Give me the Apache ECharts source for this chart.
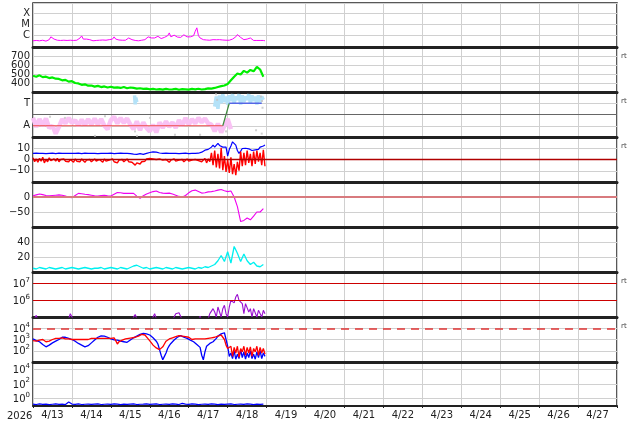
<!DOCTYPE html>
<html><head><meta charset="utf-8">
<script src="https://cdn.jsdelivr.net/npm/echarts@6/dist/echarts.min.js"></script>
<style>html,body{margin:0;padding:0;background:#fff}#c{width:634px;height:424px}</style>
</head><body><div id="c"></div>
<script>
// ---------- DATA (hours since 2026-04-13 00:00) ----------
const dayLabels = ['4/13','4/14','4/15','4/16','4/17','4/18','4/19','4/20','4/21','4/22','4/23','4/24','4/25','4/26','4/27'];
const yearLabel = '2026';
const rtLabelPanels = [1, 2, 3, 6, 7];

// X-ray flux, log10(W/m2), hourly
const xrayLog = [
-6.45,-6.5,-6.42,-6.48,-6.45,-6.5,-6.4,-6.45,-6.48,-6.42,
-6.35,-6.1,-6.0,-6.3,-6.45,-6.4,-6.48,-6.42,-6.45,-6.4,
-6.45,-6.42,-6.48,-6.4,-6.45,-6.42,-6.38,-6.4,-6.3,-6.2,
-6.02,-6.3,-6.35,-6.3,-6.15,-6.35,-6.42,-6.45,-6.4,-6.42,
-6.45,-6.4,-6.42,-6.38,-6.45,-6.4,-6.42,-6.35,-6.4,-6.3,
-6.1,-6.3,-6.4,-6.38,-6.42,-6.4,-6.35,-6.4,-6.3,-6.2,
-6.15,-6.35,-6.4,-6.42,-6.4,-6.45,-6.42,-6.4,-6.38,-6.35,
-6.3,-6.1,-5.95,-6.2,-6.25,-6.2,-6.1,-6.05,-6.2,-6.25,
-6.2,-6.15,-6.2,-6.0,-5.75,-6.1,-6.15,-5.95,-6.1,-6.12,
-6.1,-6.15,-6.0,-5.92,-6.05,-6.1,-6.05,-6.1,-6.08,-6.0,
-5.6,-5.3,-6.0,-6.2,-6.3,-6.35,-6.32,-6.38,-6.35,-6.4,
-6.38,-6.35,-6.4,-6.36,-6.3,-6.35,-6.4,-6.38,-6.42,-6.4,
-6.38,-6.4,-6.35,-6.3,-6.2,-6.1,-5.9,-5.75,-6.15,-6.3,
-6.35,-6.38,-6.3,-6.15,-6.2,-6.35,-6.42,-6.45,-6.42,-6.45,
-6.42,-6.45,-6.42,-6.45];

// Solar wind speed km/s, every 2 h
const windSpeed = [
480,470,485,465,470,455,462,448,445,430,
435,415,420,400,395,380,385,370,372,360,
368,355,362,350,358,348,352,345,355,342,
350,345,338,342,335,338,330,335,328,332,
326,335,328,330,335,325,332,330,326,334,
330,336,328,332,340,338,345,355,365,372,
390,430,470,505,495,535,515,545,530,580,
550,470];

// IMF angle scatter (pink, away sector), every 2 h
const imfAway = [
-0.3,-1.1,-0.4,-1.0,-0.35,-1.2,-1.0,-1.7,-1.1,-0.4,
-0.8,-0.3,-0.75,-0.5,-1.0,-0.45,-0.95,-0.4,-0.9,-0.35,
-0.9,-0.4,-1.0,-1.3,-0.5,-0.2,-0.8,-0.3,-0.75,-0.35,
-0.9,-1.3,-0.6,-1.4,-0.7,-1.2,-1.5,-0.9,-1.6,-0.7,
-1.2,-0.6,-1.1,-0.7,-1.2,-0.5,-1.0,-0.3,-0.9,-0.4,
-0.8,-0.3,-0.7,-0.35,-0.8,-0.9,-1.5,-0.8,-1.6,-1.0,
-0.4,-1.3];
// IMF angle (light blue, toward sector)
const imfTowardTimes = [62.6,63.0,63.4,64.0,64.1,
112,113,114,115,116,117,118,119,120,121,122,123,124,125,126,127,128,129,130,131,132,133,134,135,136,137,138,139,140,141,142];
const imfTowardVals = [1.7,0.9,1.5,1.1,null,
0.7,1.6,0.5,1.7,1.0,1.8,1.1,1.6,0.9,1.7,1.2,1.8,1.0,1.6,1.3,1.8,0.9,1.7,1.1,1.6,1.3,1.8,1.0,1.7,1.2,1.6,0.9,1.7,1.1,1.6,1.3];
// gray scatter points
const imfGrayTimes = [10.5,19.7,38.2,44.4,62.9,64.1,72.1,87.5,103,112.8,113.5,119,137.5,141.2,141.5,141,140.5];
const imfGrayVals  = [-0.2,-0.3,-1.9,-0.15,-1.5,-1.9,-0.3,-1.8,-1.8,1.8,1.3,-1.5,-1.4,1.2,0.6,-1.7,1.6];
// sector assignment step line
const sectorTimes = [0,117,121,141];
const sectorVals  = [-1,-1,1,1];

// Bt (blue) and Bz (red), nT, hourly
const bt = [
5.5,5.3,5.6,5.4,5.5,5.8,5.4,5.5,5.2,5.6,5.5,5.4,5.7,5.5,5.3,5.5,5.6,5.4,5.5,5.3,
5.4,5.6,5.5,5.3,5.5,5.6,5.4,5.5,5.7,5.5,5.3,5.4,5.6,5.5,5.4,5.2,5.5,5.6,5.4,5.5,
5.3,5.5,5.4,5.6,5.5,5.3,5.5,5.4,5.6,5.5,5.2,5.4,5.5,5.3,5.6,5.4,5.5,5.3,5.4,5.5,
5.3,5.2,4.8,5.0,4.5,4.8,5.2,5.0,4.6,5.0,5.5,5.8,6.2,6.5,6.8,7.0,6.5,6.0,5.8,5.5,
5.4,5.5,5.6,5.4,5.5,5.3,5.5,5.6,5.4,5.5,5.3,5.6,5.5,5.4,5.6,5.5,5.3,5.5,5.4,5.6,
5.5,5.4,5.6,5.8,6.5,7.5,8.3,8.0,9.0,10.0,
11.0,12.8,11.0,12.0,14.3,12.5,13.0,11.0,12.0,11.0,
3.0,9.0,12.0,15.7,17.2,12.8,8.0,5.4,7.5,9.8,
11.0,10.0,8.3,9.5,11.0,8.0,6.8,8.5,10.0,9.0,11.0,10.0,12.0,12.8];
const bz = [
1.5,-2.0,0.5,-2.5,1.0,-1.5,2.0,-3.0,0.0,-2.0,1.5,-1.0,-2.5,0.5,-1.5,1.0,-2.0,0.0,-1.0,0.5,
-1.5,-0.5,-2.0,0.0,-1.0,-2.5,0.5,-1.5,-0.5,-2.0,0.5,-1.0,-2.5,-0.5,-1.5,0.0,-2.0,-1.0,0.5,-1.5,
-2.0,0.0,-1.0,-2.5,0.5,-1.5,-3.0,-0.5,-1.5,0.5,-2.0,-1.0,-3.0,-0.5,-1.5,0.0,-2.0,-1.0,0.5,-2.0,
-1.0,-2.5,-4.0,-5.0,-3.0,-1.5,-4.0,-2.0,-0.5,-1.5,0.5,-1.0,1.0,-0.5,0.5,-1.0,0.0,-1.5,0.5,-1.0,
-0.5,-2.0,0.0,-1.5,-2.5,-0.5,-1.0,0.5,-1.5,-2.0,-0.5,-1.0,0.0,-2.0,-1.0,0.5,-1.5,-2.5,-0.5,-1.0,
0.0,-1.5,-1.0,0.5,-2.0,-1.0,1.0,-3.0,0.5,-2.0,
6.0,-5.0,8.0,-7.0,5.0,-8.0,10.5,-9.5,3.0,-11.0,
0.0,-12.0,2.0,-13.0,-4.0,-14.0,-2.0,-10.0,7.0,-6.0,
6.0,-5.0,8.0,-3.0,5.0,-6.0,7.0,-4.0,8.0,-2.0,6.0,-5.0,8.5,-6.0];

// Dst-like index, nT, every 2 h
const dstIndex = [
4,7,10,8,5,4,5,6,7,6,
3,-1,-2,5,12,11,9,8,6,4,
3,5,6,4,3,9,15,14,12,12,
12,12,3,-4,4,10,14,18,20,15,
13,12,13,10,6,2,0,5,14,21,
23,18,13,14,17,18,20,23,25,21,
18,20,0,-32,-82,-78,-70,-76,-64,-50,
-50,-39];

// density, every 2 h
const density = [
5,4,6,5,4,6,5,4,5,6,
4,5,6,5,4,5,6,5,4,5,
5,6,4,5,6,5,4,6,5,4,
6,8,9,7,5,6,4,5,6,5,
4,6,5,4,6,5,4,5,6,5,
4,6,5,7,6,8,10,15,22,14,
27,12,34,25,14,24,15,10,13,8,
7,10];

// panel 7 log10 values, hourly
const purpleLog = [
4.7,4.9,5.1,4.8,4.7,4.7,4.7,4.7,4.7,4.7,
4.7,4.7,4.7,4.7,4.7,4.7,4.7,4.7,4.7,4.7,
4.7,4.7,4.9,5.2,5.1,4.8,4.7,4.7,4.7,4.7,
4.7,4.7,4.7,4.7,4.7,4.7,4.7,4.7,4.7,4.7,
4.7,4.7,4.7,4.7,4.7,4.7,4.7,4.7,4.7,4.7,
4.7,4.7,4.7,4.7,4.7,4.7,4.7,4.7,4.7,4.7,
4.7,4.7,5.0,5.15,4.9,4.7,4.7,4.7,4.7,4.7,
4.7,4.7,4.7,4.7,5.0,5.2,4.9,4.7,4.7,4.7,
4.7,4.7,4.7,4.7,4.7,4.7,4.7,5.0,5.2,5.3,
5.25,5.05,4.8,4.7,4.7,4.7,4.7,4.7,4.7,4.7,
4.7,4.7,4.7,5.05,4.8,4.7,4.7,4.7,4.9,5.2,
5.35,5.5,5.3,5.0,5.6,5.5,5.0,5.5,5.7,5.2,
5.0,5.6,6.0,5.9,5.85,6.2,6.36,6.0,6.1,5.8,
5.2,5.8,5.9,5.3,5.5,5.0,5.5,5.45,5.0,5.4,
5.3,5.0,5.4,5.2];

// panel 8 log10 values, hourly
const fluxBlueLog = [
3.05,3.0,2.9,2.85,2.8,2.7,2.55,2.45,2.35,2.4,
2.5,2.6,2.7,2.8,2.85,2.95,3.0,3.1,3.2,3.25,
3.2,3.15,3.1,3.05,3.0,2.95,2.85,2.75,2.65,2.6,
2.5,2.4,2.35,2.35,2.45,2.6,2.7,2.8,2.95,3.1,
3.2,3.28,3.32,3.34,3.3,3.25,3.2,3.12,3.05,3.0,
2.97,2.95,2.95,2.9,2.85,2.82,2.8,2.78,2.75,2.85,
2.95,3.05,3.15,3.2,3.3,3.4,3.45,3.5,3.55,3.55,
3.5,3.45,3.4,3.3,3.15,3.05,2.85,2.6,2.1,1.6,
1.2,1.5,1.8,2.2,2.45,2.65,2.8,2.95,3.1,3.2,
3.3,3.35,3.3,3.2,3.15,3.1,3.0,2.95,2.9,2.8,
2.65,2.55,2.45,2.3,1.6,1.2,1.9,2.4,2.55,2.65,
2.75,2.8,2.95,3.1,3.3,3.45,3.5,3.55,3.6,3.6,
2.4,1.5,1.8,1.3,2.0,1.25,1.7,1.3,2.1,1.4,
1.9,1.25,1.8,1.4,2.0,1.3,1.7,1.25,1.9,1.4,
2.0,1.3,1.8,1.5];
const fluxRedLog = [
2.9,2.95,2.85,3.0,2.95,2.9,3.0,2.85,2.8,2.9,
2.85,2.95,3.0,3.05,3.1,3.05,3.1,3.15,3.15,3.1,
3.05,3.0,3.05,2.95,3.0,2.95,3.0,2.95,3.0,3.05,
3.0,2.95,3.0,3.05,3.0,3.05,3.1,3.05,3.1,3.05,
3.1,3.05,3.1,3.15,3.1,3.15,3.1,3.15,3.1,3.15,
3.15,2.9,2.6,2.8,2.9,2.95,3.0,3.05,3.05,3.1,
3.1,3.15,3.2,3.2,3.25,3.3,3.35,3.45,3.55,3.4,
3.25,3.05,2.9,2.7,2.5,2.35,2.25,2.15,2.1,2.2,
2.35,2.6,2.85,3.0,3.05,3.1,3.15,3.2,3.25,3.3,
3.35,3.35,3.3,3.3,3.25,3.25,3.2,3.1,3.0,3.0,
3.05,3.0,3.05,3.0,3.05,3.0,3.05,3.0,3.1,3.1,
3.15,3.2,3.2,3.25,3.3,3.35,3.4,3.3,3.0,2.5,
2.2,2.05,2.4,1.5,2.3,1.8,2.4,1.4,2.2,1.9,
2.4,1.6,2.3,1.8,2.35,1.5,2.2,1.9,2.4,1.6,
2.3,1.8,2.2,1.7];

// panel 9 log10 values, every 2 h
const lowFluxLog = [
-0.75,-0.8,-0.72,-0.78,-0.75,-0.8,-0.76,-0.72,-0.78,-0.75,
-0.8,-0.45,-0.74,-0.78,-0.72,-0.8,-0.76,-0.74,-0.78,-0.75,
-0.72,-0.8,-0.76,-0.74,-0.78,-0.72,-0.75,-0.8,-0.74,-0.78,
-0.75,-0.72,-0.8,-0.76,-0.74,-0.7,-0.78,-0.75,-0.72,-0.8,
-0.76,-0.74,-0.78,-0.72,-0.75,-0.8,-0.65,-0.74,-0.78,-0.72,
-0.75,-0.8,-0.76,-0.74,-0.78,-0.72,-0.75,-0.8,-0.74,-0.78,
-0.75,-0.72,-0.8,-0.76,-0.74,-0.78,-0.72,-0.75,-0.8,-0.74,
-0.78,-0.75];

// reference lines
const bzZero = [0];
const dstZero = [0];
const imfMid = [0];
const p7Thresholds = [6, 7];
const p8Threshold = [4];
const p9Grid = [0, 2, 4];

// ---------- CHART ----------
const FONT = 'DejaVu Sans';
const TXT = '#222';
const series = (vals, step) => vals.map((v, i) => [i * step, v]);
const zip = (t, v) => t.map((x, i) => [x, v[i]]);

const tops = [3, 47, 92, 137, 182, 227, 272, 317, 362];
const hts  = [44, 45, 45, 45, 45, 45, 45, 45, 44];

const axisSpecs = [
  {min: -7, max: -3.1, interval: 1, vals: [-4, -5, -6], text: ['X', 'M', 'C']},
  {min: 300, max: 800, interval: 100, vals: [400, 500, 600, 700], text: ['400', '500', '600', '700']},
  {min: -2, max: 2, interval: 1, vals: [1, -1], text: ['T', 'A']},
  {min: -20, max: 20, interval: 10, vals: [10, 0, -10], text: ['10', '0', '\u221210']},
  {min: -100, max: 50, interval: 50, vals: [0, -50], text: ['0', '\u221250']},
  {min: 0, max: 60, interval: 20, vals: [20, 40], text: ['20', '40']},
  {min: 5, max: 7.7, interval: 1, vals: [6, 7], log: true},
  {min: 1, max: 5, interval: 1, vals: [2, 3, 4], log: true},
  {min: -1, max: 5, interval: 1, vals: [0, 2, 4], log: true, noSplit: true}
];

const grid = tops.map((t, i) => ({
  left: 33, right: 17, top: t, height: hts[i],
  show: true, borderColor: '#222', borderWidth: 1.5, backgroundColor: 'transparent',
  containLabel: false, outerBoundsMode: 'none'
}));

const xAxis = tops.map((t, i) => ({
  type: 'value', gridIndex: i, min: 0, max: 360, interval: 24,
  axisLabel: {show: false},
  axisLine: {show: true, onZero: false, lineStyle: {color: '#222', width: i < 8 ? 3 : 2}},
  axisTick: {show: true, length: 2, lineStyle: {color: '#222'}},
  splitLine: {show: true, lineStyle: {color: '#d0d0d0', width: 1}}
}));
xAxis.push({
  type: 'category', gridIndex: 8, data: dayLabels, boundaryGap: true, position: 'bottom',
  axisLine: {show: false}, axisTick: {show: false}, splitLine: {show: false},
  axisLabel: {interval: 0, fontSize: 10, fontFamily: FONT, color: TXT, margin: 4, hideOverlap: false}
});

const yAxis = axisSpecs.map((s, i) => ({
  type: 'value', gridIndex: i, min: s.min, max: s.max, interval: s.interval,
  axisLine: {show: false}, axisTick: {show: false},
  splitLine: {show: !s.noSplit, lineStyle: {color: '#d0d0d0', width: 1}},
  axisLabel: {
    show: true, margin: 3, fontSize: 10, fontFamily: FONT, color: TXT,
    showMinLabel: true, showMaxLabel: true, hideOverlap: false,
    formatter: (v) => {
      const k = s.vals.findIndex(x => Math.abs(x - v) < 1e-6);
      if (k < 0) return '';
      if (s.log) return '{b|10}{s|' + s.vals[k] + '}';
      return s.text[k];
    },
    rich: {
      b: {fontSize: 10, fontFamily: FONT, color: TXT, lineHeight: 12, padding: [3, 0, 0, 0], verticalAlign: 'bottom'},
      s: {fontSize: 7, fontFamily: FONT, color: TXT, lineHeight: 8, padding: [0, 0, 6, 0], verticalAlign: 'bottom'}
    }
  }
}));

function mk(lines, color, width, type) {
  return {
    silent: true, symbol: ['none', 'none'], animation: false,
    label: {show: false},
    lineStyle: {color: color, width: width, type: type || 'solid'},
    emphasis: {disabled: true},
    data: lines.map(v => ({yAxis: v}))
  };
}
function line(idx, data, color, width, extra) {
  return Object.assign({
    type: 'line', xAxisIndex: idx, yAxisIndex: idx, data: data,
    showSymbol: false, symbol: 'none', animation: false, silent: true,
    lineStyle: {color: color, width: width}, itemStyle: {color: color},
    connectNulls: false, clip: true
  }, extra || {});
}

const sectorPts = zip(sectorTimes, sectorVals);

const option = {
  animation: false,
  backgroundColor: '#fff',
  grid, xAxis, yAxis,
  series: [
    line(0, series(xrayLog, 1), '#ff00ff', 1),
    line(1, series(windSpeed, 2), '#00ee00', 2.2),
    line(2, series(imfAway, 2), '#f9c2f4', 4.5, {z: 1, markLine: mk(imfMid, '#666', 1.2)}),
    line(2, zip(imfTowardTimes, imfTowardVals), '#b4e2f8', 3.5, {z: 1}),
    {type: 'scatter', xAxisIndex: 2, yAxisIndex: 2, data: zip(imfGrayTimes, imfGrayVals), symbol: 'rect', symbolSize: 2, itemStyle: {color: '#c4c4c4'}, silent: true, animation: false, z: 1},
    line(2, sectorPts.slice(0, 2), '#f04848', 1.2),
    line(2, sectorPts.slice(1, 3), '#3c8c3c', 1.2),
    line(2, sectorPts.slice(2, 4), '#5566e6', 1.5),
    line(3, series(bt, 1), '#0000ff', 1.2),
    line(3, series(bz, 1), '#ff0000', 1.4, {markLine: mk(bzZero, '#b00000', 1.3)}),
    line(4, series(dstIndex, 2), '#f000f0', 1.1, {markLine: mk(dstZero, '#d87a7e', 2)}),
    line(5, series(density, 2), '#00f0f0', 1.3),
    line(6, series(purpleLog, 1), '#9a10d0', 1.1, {markLine: mk(p7Thresholds, '#cc0000', 1.2)}),
    line(7, series(fluxBlueLog, 1), '#0000ff', 1.3),
    line(7, series(fluxRedLog, 1), '#ff0000', 1.3, {markLine: mk(p8Threshold, '#e03535', 1.5, [8, 6])}),
    line(8, series(lowFluxLog, 2), '#0000ff', 1.2, {markLine: mk(p9Grid, '#d0d0d0', 1)})
  ],
  graphic: [
    {type: 'text', left: 7, top: 411, style: {text: yearLabel, font: '10px "DejaVu Sans"', fill: TXT}},
    ...rtLabelPanels.map(p => ({
      type: 'text', left: 621, top: tops[p] + 6,
      style: {text: 'rt', font: '7px "DejaVu Sans"', fill: '#444'}
    }))
  ]
};

const chart = echarts.init(document.getElementById('c'), null, {renderer: 'canvas'});
chart.setOption(option);
</script>
</body></html>
